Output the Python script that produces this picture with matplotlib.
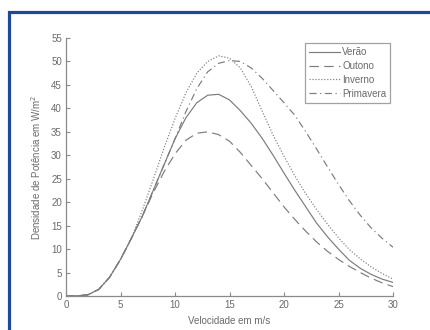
import matplotlib.pyplot as plt
from matplotlib.lines import Line2D

velocidade = list(range(0, 31))

verao = [0, 0.02, 0.25, 1.4, 4.0, 7.8, 12.3, 17.0, 22.5, 28.0, 33.5, 38.0, 41.2, 42.8, 43.0,
         41.8, 39.5, 36.8, 33.6, 30.0, 26.2, 22.5, 19.0, 15.5, 12.6, 10.0, 7.6, 5.9, 4.6, 3.6, 2.9]
outono = [0, 0.02, 0.25, 1.4, 4.0, 7.8, 12.3, 17.0, 22.0, 26.5, 30.3, 33.2, 34.7, 35.0, 34.4,
          33.0, 30.6, 27.8, 25.0, 22.0, 19.0, 16.3, 13.8, 11.5, 9.5, 7.8, 6.3, 5.0, 3.8, 2.8, 2.0]
inverno = [0, 0.02, 0.25, 1.4, 4.0, 7.8, 12.3, 18.3, 24.8, 31.6, 37.8, 43.3, 47.5, 50.0, 51.2,
           50.7, 48.6, 44.6, 39.4, 34.3, 29.8, 25.6, 21.8, 18.4, 15.3, 12.4, 9.9, 7.9, 6.2, 4.8, 3.6]
primavera = [0, 0.02, 0.25, 1.4, 4.0, 7.8, 12.3, 17.0, 22.5, 28.0, 33.5, 39.3, 44.2, 47.8, 49.6,
             50.2, 50.0, 48.6, 46.4, 43.8, 41.2, 38.5, 35.0, 31.3, 27.5, 23.8, 20.3, 17.2, 14.5, 12.3, 10.4]

series = [("Verão", verao, "-"), ("Outono", outono, (0, (8, 4.5))),
          ("Inverno", inverno, (0, (1, 1.5))), ("Primavera", primavera, (0, (6, 3, 1, 3)))]

plt.rcParams["font.family"] = ["Liberation Sans Narrow", "Liberation Sans", "DejaVu Sans"]
grey = "#6a6a6a"

fig = plt.figure(figsize=(4.3, 3.3), dpi=100)
ax = fig.add_axes([66 / 430, 1 - 296 / 330, 327 / 430, 258 / 330])

for name, vals, ls in series:
    ax.plot(velocidade, vals, color="#7c7c7c", linestyle=ls, linewidth=0.85, label=name)

ax.set_xlim(0, 30)
ax.set_ylim(0, 55)
ax.set_xticks(range(0, 31, 5))
ax.set_yticks(range(0, 56, 5))
for s in ["top", "right"]:
    ax.spines[s].set_visible(False)
for s in ["left", "bottom"]:
    ax.spines[s].set_color("#8a8a8a")
    ax.spines[s].set_linewidth(0.9)
ax.tick_params(direction="in", length=3, width=0.8, color="#8a8a8a",
               labelsize=7, labelcolor=grey, pad=3)

ax.set_xlabel("Velocidade em m/s", fontsize=7, color=grey, labelpad=4)
ax.set_ylabel("Densidade de Potência em W/m$^2$", fontsize=7, color=grey, labelpad=6)

leg = ax.legend(loc="upper right", bbox_to_anchor=(0.991, 0.98), borderaxespad=0,
                fontsize=7, frameon=True, fancybox=False, handlelength=3.2,
                handletextpad=0.2, labelspacing=0.4, borderpad=0.4)
leg.get_frame().set_edgecolor("#8a8a8a")
leg.get_frame().set_linewidth(0.9)
for t in leg.get_texts():
    t.set_color(grey)

# blue frame at top and left
fig.add_artist(Line2D([8.5 / 430, 8.5 / 430, 1.0], [0.0, 1 - 11.5 / 330, 1 - 11.5 / 330],
                      transform=fig.transFigure, color="#1c4a98", linewidth=2.3,
                      solid_joinstyle="miter"))

fig.savefig("out.png", dpi=100)
plt.close(fig)
